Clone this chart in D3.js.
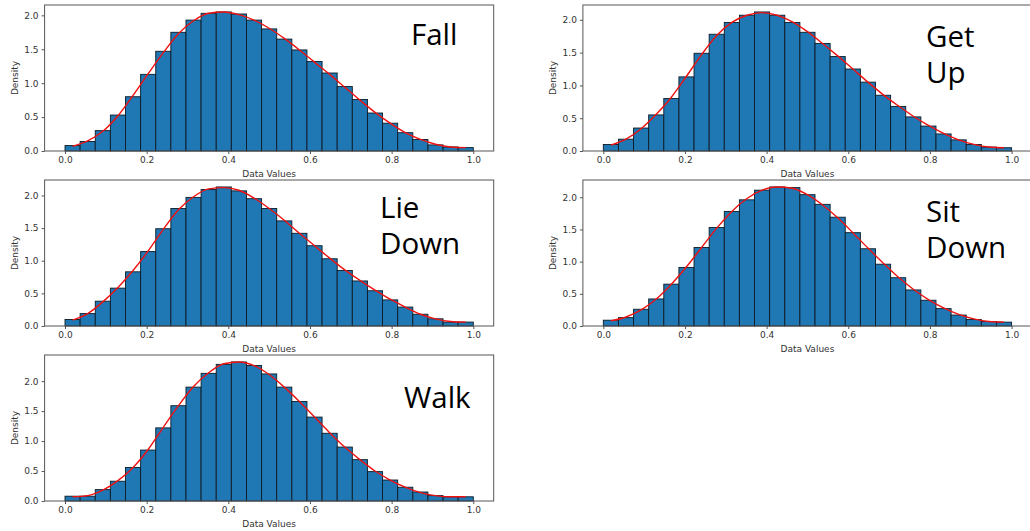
<html>
<head>
<script src="https://d3js.org/d3.v7.min.js"></script>
<style>
  body { margin: 0; background: #fff; }
  svg { display: block; }
</style>
</head>
<body>
<svg></svg>
<script>
// histogram heights (density), 27 equal bins over [0, 1]
var fallBars = [0.08,0.14,0.30,0.53,0.80,1.13,1.47,1.75,1.93,2.03,2.05,2.02,1.93,1.80,1.65,1.49,1.32,1.15,0.95,0.76,0.56,0.41,0.27,0.17,0.09,0.06,0.05];
var getUpBars = [0.10,0.18,0.35,0.55,0.80,1.13,1.49,1.78,1.96,2.07,2.12,2.07,1.96,1.81,1.64,1.44,1.25,1.05,0.85,0.68,0.52,0.38,0.26,0.17,0.10,0.06,0.05];
var lieDownBars = [0.10,0.19,0.38,0.58,0.83,1.14,1.49,1.80,1.97,2.09,2.13,2.07,1.95,1.80,1.61,1.42,1.23,1.03,0.85,0.69,0.54,0.40,0.29,0.18,0.11,0.06,0.06];
var sitDownBars = [0.09,0.13,0.26,0.42,0.65,0.91,1.22,1.53,1.78,1.96,2.11,2.16,2.15,2.04,1.89,1.69,1.45,1.20,0.96,0.75,0.56,0.40,0.27,0.17,0.10,0.07,0.06];
var walkBars = [0.08,0.08,0.19,0.33,0.56,0.85,1.22,1.59,1.90,2.13,2.28,2.32,2.26,2.12,1.90,1.66,1.40,1.13,0.90,0.69,0.49,0.35,0.23,0.15,0.09,0.07,0.07];

// red density curve, read at the bin centres
var fallKde = [0.07,0.15,0.29,0.52,0.82,1.14,1.45,1.73,1.92,2.03,2.05,2.01,1.93,1.81,1.66,1.49,1.31,1.13,0.94,0.75,0.57,0.41,0.27,0.17,0.10,0.06,0.05];
var getUpKde = [0.09,0.18,0.34,0.56,0.82,1.14,1.47,1.76,1.96,2.07,2.11,2.07,1.97,1.82,1.64,1.45,1.25,1.05,0.86,0.69,0.53,0.39,0.27,0.17,0.10,0.06,0.05];
var lieDownKde = [0.09,0.19,0.37,0.59,0.85,1.15,1.48,1.78,1.98,2.10,2.12,2.08,1.96,1.80,1.62,1.42,1.23,1.04,0.86,0.70,0.55,0.41,0.29,0.18,0.11,0.07,0.06];
var sitDownKde = [0.08,0.14,0.25,0.42,0.65,0.92,1.22,1.52,1.78,1.98,2.11,2.16,2.14,2.04,1.88,1.68,1.45,1.21,0.98,0.76,0.57,0.41,0.28,0.18,0.11,0.07,0.06];
var walkKde = [0.07,0.09,0.18,0.34,0.56,0.86,1.23,1.59,1.91,2.14,2.29,2.32,2.26,2.11,1.90,1.66,1.40,1.14,0.90,0.69,0.50,0.35,0.23,0.14,0.09,0.07,0.07];

var xTicks = [0, 0.2, 0.4, 0.6, 0.8, 1.0];
var yTicks = [0, 0.5, 1.0, 1.5, 2.0];
var xLabel = "Data Values";
var yLabel = "Density";

var panels = [
    {name: ["Fall"], bars: fallBars, kde: fallKde, col: 0, row: 0, tx: 411, ty: 45},
    {name: ["Get", "Up"], bars: getUpBars, kde: getUpKde, col: 1, row: 0, tx: 926, ty: 47},
    {name: ["Lie", "Down"], bars: lieDownBars, kde: lieDownKde, col: 0, row: 1, tx: 380, ty: 218},
    {name: ["Sit", "Down"], bars: sitDownBars, kde: sitDownKde, col: 1, row: 1, tx: 926, ty: 222},
    {name: ["Walk"], bars: walkBars, kde: walkKde, col: 0, row: 2, tx: 404, ty: 408}
];

var width = 1030, height = 531;
var colLeft = [44.6, 582.9];
var rowTop = [5, 180, 355];
var axW = 449.1, axH = 146;

var svg = d3.select("svg")
    .attr("width", width)
    .attr("height", height);

panels.forEach(function(p) {
    var left = colLeft[p.col], top = rowTop[p.row];
    var nBins = p.bars.length;
    var yMax = d3.max(p.bars.concat(p.kde)) * 1.05;

    var x = d3.scaleLinear()
        .domain([-0.05, 1.05])
        .range([left, left + axW]);
    var y = d3.scaleLinear()
        .domain([0, yMax])
        .range([top + axH, top]);

    var g = svg.append("g");

    g.selectAll("rect.bar")
        .data(p.bars)
        .enter().append("rect")
        .attr("class", "bar")
        .attr("x", function(d, i) { return x(i / nBins); })
        .attr("width", function(d, i) { return x((i + 1) / nBins) - x(i / nBins); })
        .attr("y", function(d) { return y(d); })
        .attr("height", function(d) { return y(0) - y(d); })
        .attr("fill", "#1f77b4")
        .attr("stroke", "#0e1a24")
        .attr("stroke-width", 0.9);

    var line = d3.line()
        .x(function(d, i) { return x((i + 0.5) / nBins); })
        .y(function(d) { return y(d); })
        .curve(d3.curveMonotoneX);

    g.append("path")
        .datum(p.kde)
        .attr("fill", "none")
        .attr("stroke", "#ee1111")
        .attr("stroke-width", 1.4)
        .attr("d", line);

    // frame
    g.append("rect")
        .attr("x", left).attr("y", top)
        .attr("width", axW).attr("height", axH)
        .attr("fill", "none")
        .attr("stroke", "#555")
        .attr("stroke-width", 1);

    var xAxis = g.append("g")
        .attr("transform", "translate(0," + (top + axH) + ")")
        .call(d3.axisBottom(x).tickValues(xTicks).tickFormat(d3.format(".1f")).tickSizeOuter(0).tickSize(3).tickPadding(3));
    var yAxis = g.append("g")
        .attr("transform", "translate(" + left + ",0)")
        .call(d3.axisLeft(y).tickValues(yTicks).tickFormat(d3.format(".1f")).tickSizeOuter(0).tickSize(3).tickPadding(3));

    [xAxis, yAxis].forEach(function(a) {
        a.select(".domain").remove();
        a.selectAll("line").attr("stroke", "#555");
        a.selectAll("text")
            .attr("fill", "#333")
            .style("font-family", "DejaVu Sans")
            .style("font-size", "9px");
    });

    g.append("text")
        .attr("x", left + axW / 2)
        .attr("y", top + axH + 26)
        .attr("text-anchor", "middle")
        .attr("fill", "#333")
        .style("font-family", "DejaVu Sans")
        .style("font-size", "9px")
        .text(xLabel);

    g.append("text")
        .attr("transform", "translate(" + (left - 26.5) + "," + (top + axH / 2) + ") rotate(-90)")
        .attr("text-anchor", "middle")
        .attr("fill", "#333")
        .style("font-family", "DejaVu Sans")
        .style("font-size", "9px")
        .text(yLabel);

    var label = g.append("text")
        .attr("x", p.tx)
        .attr("y", p.ty)
        .attr("fill", "#000")
        .style("font-family", "Open Sans")
        .style("font-size", "29.5px");
    p.name.forEach(function(w, i) {
        label.append("tspan")
            .attr("x", p.tx)
            .attr("dy", i === 0 ? 0 : 35.5)
            .text(w);
    });
});
</script>
</body>
</html>
